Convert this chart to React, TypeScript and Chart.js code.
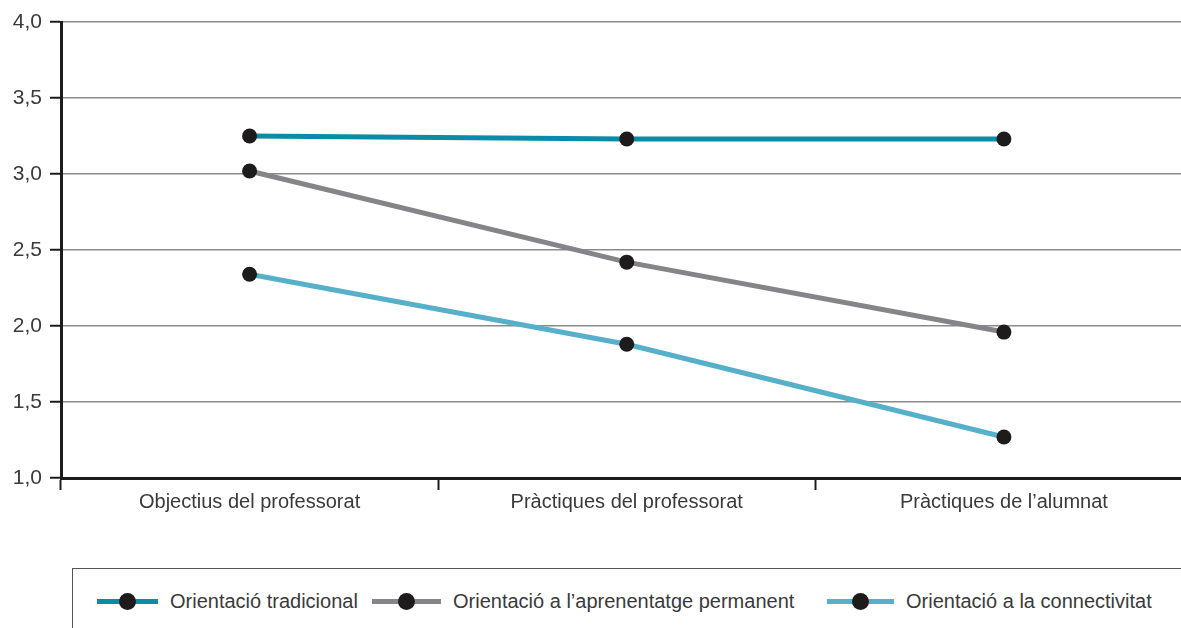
import React, { useEffect, useRef } from "react";
import { Chart, registerables } from "chart.js";

Chart.register(...registerables);

const categories = ["Objectius del professorat", "Pràctiques del professorat", "Pràctiques de l’alumnat"];
const seriesNames = ["Orientació tradicional", "Orientació a l’aprenentatge permanent", "Orientació a la connectivitat"];
const tradicional = [3.25, 3.23, 3.23];
const permanent = [3.02, 2.42, 1.96];
const connectivitat = [2.34, 1.88, 1.27];
const seriesColors = ["#0b8ca6", "#858589", "#57b0c9"];

const FONT = "'Liberation Sans', Arial, sans-serif";
const TEXT = "#3a3a3a";

export default function App() {
  const ref = useRef<HTMLCanvasElement | null>(null);

  useEffect(() => {
    document.body.style.margin = "0";
    const values = [tradicional, permanent, connectivitat];
    const chart = new Chart(ref.current as HTMLCanvasElement, {
      type: "line",
      data: {
        labels: categories,
        datasets: values.map((v, i) => ({
          label: seriesNames[i],
          data: v,
          borderColor: seriesColors[i],
          backgroundColor: "#1e1b1d",
          borderWidth: 5,
          pointRadius: 7.5,
          pointBackgroundColor: "#1e1b1d",
          pointBorderColor: "#1e1b1d",
          pointBorderWidth: 0,
          tension: 0,
          fill: false,
        })),
      },
      options: {
        animation: false,
        responsive: false,
        maintainAspectRatio: false,
        layout: { padding: { top: 22, right: 0, left: 0, bottom: 0 } },
        plugins: { legend: { display: false }, tooltip: { enabled: false } },
        scales: {
          x: {
            offset: true,
            grid: {
              display: true,
              drawOnChartArea: false,
              offset: true,
              tickColor: "#1e1b1d",
              tickLength: 12,
              tickWidth: 2,
            },
            border: { color: "#1e1b1d", width: 3 },
            ticks: { color: TEXT, font: { family: FONT, size: 20 }, padding: 0 },
            afterFit: (s: any) => { s.height = 82; },
          },
          y: {
            min: 1,
            max: 4,
            ticks: {
              stepSize: 0.5,
              color: TEXT,
              padding: 8,
              font: { family: FONT, size: 21 },
              callback: (v: any) => Number(v).toFixed(1).replace(".", ","),
            },
            grid: {
              color: "#8a8a8a",
              lineWidth: 1.5,
              tickColor: "#1e1b1d",
              tickLength: 11,
              tickWidth: 2,
            },
            border: { color: "#1e1b1d", width: 3 },
            afterFit: (s: any) => { s.width = 61; },
          },
        },
      },
    });
    return () => chart.destroy();
  }, []);

  return (
    <div style={{ position: "fixed", left: 0, top: 0, width: 1181, height: 628, background: "#fff", overflow: "hidden" }}>
      <canvas ref={ref} width={1200} height={560} style={{ display: "block", width: 1200, height: 560 }} />
      <div
        style={{
          position: "absolute",
          left: 72,
          top: 568,
          width: 1120,
          height: 80,
          borderLeft: "1.5px solid #555",
          borderTop: "1.5px solid #555",
        }}
      />
      {seriesNames.map((name, i) => {
        const lefts = [97, 372, 827];
        const widths = [61, 69, 67];
        return (
          <div
            key={name}
            style={{
              position: "absolute",
              left: lefts[i],
              top: 590,
              height: 22,
              display: "flex",
              alignItems: "center",
              fontFamily: FONT,
              fontSize: 20,
              color: TEXT,
              whiteSpace: "nowrap",
            }}
          >
            <span style={{ position: "relative", display: "inline-block", width: widths[i], height: 22, marginRight: 12 }}>
              <span style={{ position: "absolute", left: 0, right: 0, top: 8.5, height: 5, background: seriesColors[i] }} />
              <span
                style={{
                  position: "absolute",
                  left: widths[i] / 2 - 8.5,
                  top: 2.5,
                  width: 17,
                  height: 17,
                  borderRadius: 9,
                  background: "#1e1b1d",
                }}
              />
            </span>
            {name}
          </div>
        );
      })}
    </div>
  );
}
